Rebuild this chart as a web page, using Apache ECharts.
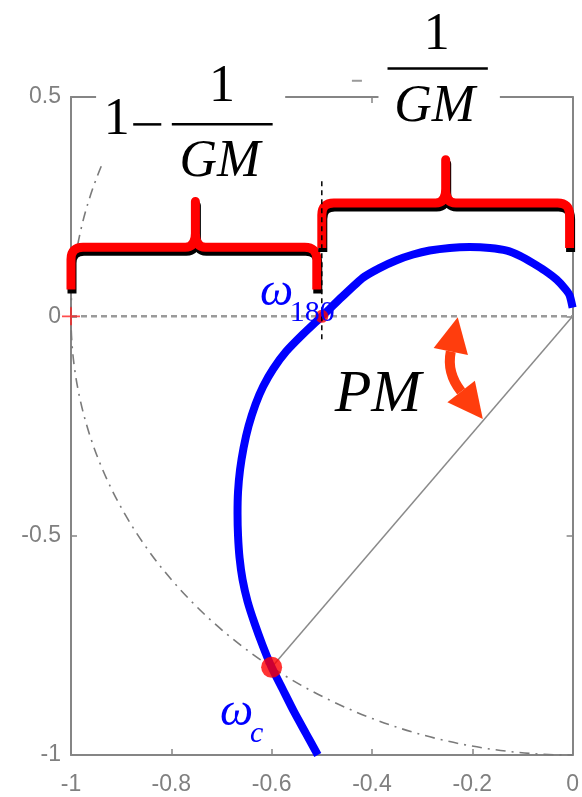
<!DOCTYPE html>
<html>
<head>
<meta charset="utf-8">
<script src="https://cdn.jsdelivr.net/npm/echarts@6/dist/echarts.min.js"></script>
<style>
  html, body { margin: 0; padding: 0; background: #fff; }
  #chart { width: 582px; height: 797px; }
</style>
</head>
<body>
<div id="chart"></div>
<script>
// Nyquist locus of the open-loop response (real / imaginary parts)
const nyquistRe = [-0.508, -0.532, -0.556, -0.578, -0.600, -0.618, -0.634, -0.648, -0.658, -0.664,
                   -0.667, -0.668, -0.667, -0.663, -0.656, -0.646, -0.632, -0.617, -0.597, -0.571,
                   -0.537, -0.500, -0.460, -0.418, -0.385, -0.351, -0.318, -0.285, -0.245, -0.205,
                   -0.165, -0.131, -0.105, -0.080, -0.055, -0.032, -0.015, -0.006, 0.000];
const nyquistIm = [-1.000, -0.950, -0.900, -0.850, -0.800, -0.750, -0.700, -0.650, -0.600, -0.550,
                   -0.500, -0.450, -0.400, -0.350, -0.300, -0.250, -0.200, -0.160, -0.120, -0.080,
                   -0.040, 0.000, 0.044, 0.088, 0.110, 0.128, 0.141, 0.150, 0.156, 0.158,
                   0.156, 0.150, 0.138, 0.122, 0.104, 0.084, 0.063, 0.048, 0.020];

// Special points
const criticalPoint = [-1, 0];        // -1 + j0
const omega180Point = [-0.5, 0];      // phase crossover
const omegaCPoint = [-0.6, -0.8];     // gain crossover (on the unit circle)

// Unit circle arc, degrees
const unitArcDeg = [160, 270];

// Gain-margin braces: [xStart, xEnd, xTip, yBar, yLegEnd, yTip]
const braceOneMinus = [-1.0, -0.51, -0.752, 0.1576, 0.061, 0.262];
const braceInvGM = [-0.5, -0.006, -0.253, 0.2585, 0.156, 0.357];

// Phase-margin arrow: [tip1 x, tip1 y, tip2 x, tip2 y, bend x, bend y]
const pmArrow = [-0.229, -0.002, -0.179, -0.234, -0.2515, -0.129];

// Axis ticks
const xTickValues = [-1, -0.8, -0.6, -0.4, -0.2, 0];
const yTickValues = [-1, -0.5, 0, 0.5];

const chart = echarts.init(document.getElementById('chart'), null, { renderer: 'canvas' });

const GRAY = '#858585';
const SERIF = '"Liberation Serif", "Times New Roman", serif';

function braceItem(params, api) {
  const x0 = api.value(0), x1 = api.value(1), xm = api.value(2);
  const yH = api.value(3), yB = api.value(4), yT = api.value(5);
  const L = api.coord([x0, yB]);
  const R = api.coord([x1, yB]);
  const hy = api.coord([x0, yH])[1];
  const T = api.coord([xm, yT]);
  const r = 12, sw = 10, sh = 14;
  const d = `M${L[0]},${L[1]} L${L[0]},${hy + r} Q${L[0]},${hy} ${L[0] + r},${hy} ` +
            `L${T[0] - sw},${hy} Q${T[0]},${hy} ${T[0]},${hy - sh} L${T[0]},${T[1]} ` +
            `L${T[0]},${hy - sh} Q${T[0]},${hy} ${T[0] + sw},${hy} ` +
            `L${R[0] - r},${hy} Q${R[0]},${hy} ${R[0]},${hy + r} L${R[0]},${R[1]}`;
  return {
    type: 'group',
    children: [
      { type: 'path', x: 1, y: 4, shape: { pathData: d },
        style: { fill: 'none', stroke: '#000', lineWidth: 9, lineJoin: 'round', lineCap: 'butt' } },
      { type: 'path', shape: { pathData: d },
        style: { fill: 'none', stroke: '#ff0000', lineWidth: 9, lineJoin: 'round', lineCap: 'butt' } }
    ]
  };
}

function arrowItem(params, api) {
  const A = api.coord([api.value(0), api.value(1)]);
  const B = api.coord([api.value(2), api.value(3)]);
  const C = api.coord([api.value(4), api.value(5)]);
  const headLen = 35, headHalf = 17.5;
  function head(tip) {
    const dx = C[0] - tip[0], dy = C[1] - tip[1];
    const n = Math.hypot(dx, dy);
    const ux = dx / n, uy = dy / n;
    const bx = tip[0] + ux * headLen, by = tip[1] + uy * headLen;
    return {
      base: [bx, by],
      pts: [tip, [bx - uy * headHalf, by + ux * headHalf], [bx + uy * headHalf, by - ux * headHalf]]
    };
  }
  const h1 = head(A), h2 = head(B);
  const color = '#ff3d0d';
  return {
    type: 'group',
    children: [
      { type: 'path',
        shape: { pathData: `M${h1.base[0]},${h1.base[1]} Q${C[0]},${C[1]} ${h2.base[0]},${h2.base[1]}` },
        style: { fill: 'none', stroke: color, lineWidth: 10 } },
      { type: 'polygon', shape: { points: h1.pts }, style: { fill: color } },
      { type: 'polygon', shape: { points: h2.pts }, style: { fill: color } }
    ]
  };
}

function unitArcItem(params, api) {
  const c = api.coord([0, 0]);
  const s = api.size([1, 1]);
  const rx = s[0], ry = s[1];
  const a0 = unitArcDeg[0] * Math.PI / 180, a1 = unitArcDeg[1] * Math.PI / 180;
  const p0 = [c[0] + rx * Math.cos(a0), c[1] - ry * Math.sin(a0)];
  const p1 = [c[0] + rx * Math.cos(a1), c[1] - ry * Math.sin(a1)];
  return {
    type: 'path',
    shape: { pathData: `M${p0[0]},${p0[1]} A${rx} ${ry} 0 0 0 ${p1[0]},${p1[1]}` },
    style: { fill: 'none', stroke: '#7a7a7a', lineWidth: 1.6, lineDash: [10, 6, 2, 6] }
  };
}

const axisCommon = {
  type: 'value',
  axisLine: { show: true, onZero: false, lineStyle: { color: GRAY, width: 2 } },
  axisTick: { show: true, inside: true, length: 6, lineStyle: { color: GRAY, width: 1.5 } },
  splitLine: { show: false }
};
const labelFont = '"Liberation Sans", Arial, sans-serif';

const option = {
  animation: false,
  backgroundColor: '#fff',
  grid: { left: 71, right: 9, top: 97, bottom: 42, containLabel: false },
  xAxis: [
    Object.assign({}, axisCommon, {
      position: 'bottom', min: -1, max: 0, interval: 0.2,
      axisLabel: { color: '#808080', fontSize: 23, margin: 18, fontFamily: labelFont,
        formatter: v => String(xTickValues.find(t => Math.abs(t - v) < 1e-9) ?? v) }
    }),
    Object.assign({}, axisCommon, {
      position: 'top', min: -1, max: 0, interval: 0.2, axisLabel: { show: false }
    })
  ],
  yAxis: [
    Object.assign({}, axisCommon, {
      position: 'left', min: -1, max: 0.5, interval: 0.5,
      axisLabel: { color: '#808080', fontSize: 23, margin: 10, fontFamily: labelFont,
        formatter: v => String(yTickValues.find(t => Math.abs(t - v) < 1e-9) ?? v) }
    }),
    Object.assign({}, axisCommon, {
      position: 'right', min: -1, max: 0.5, interval: 0.5, axisLabel: { show: false }
    })
  ],
  series: [
    { // unit circle
      type: 'custom', coordinateSystem: 'cartesian2d', silent: true, z: 1,
      renderItem: unitArcItem, data: [[0, 0]]
    },
    { // real axis reference
      type: 'line', silent: true, z: 1, symbol: 'none',
      data: [criticalPoint, [0, 0]],
      lineStyle: { color: '#9a9a9a', width: 2.5, type: [6, 4] }
    },
    { // phase margin ray
      type: 'line', silent: true, z: 1, symbol: 'none',
      data: [[0, 0], omegaCPoint],
      lineStyle: { color: '#8a8a8a', width: 1.5 }
    },
    { // Nyquist locus
      type: 'line', silent: true, z: 2, symbol: 'none', smooth: 0.2,
      data: nyquistRe.map((x, i) => [x, nyquistIm[i]]),
      lineStyle: { color: '#0000ff', width: 8 }
    },
    { // crossover points
      type: 'scatter', silent: true, z: 3,
      data: [
        { value: omega180Point, symbolSize: 13 },
        { value: omegaCPoint, symbolSize: 21 }
      ],
      itemStyle: { color: '#ff0000' }
    },
    { // critical point marker
      type: 'scatter', silent: true, z: 3,
      data: [criticalPoint], symbolSize: 18,
      symbol: 'path://M0,9H20V11H0Z M9,0H11V20H9Z',
      itemStyle: { color: '#ff2020' }
    },
    { // omega_180 guide
      type: 'line', silent: true, z: 6, symbol: 'none',
      data: [[omega180Point[0], -0.052], [omega180Point[0], 0.313]],
      lineStyle: { color: '#000', width: 1.5, type: [5, 4] }
    },
    { // gain margin braces
      type: 'custom', coordinateSystem: 'cartesian2d', silent: true, z: 5, clip: false,
      renderItem: braceItem, data: [braceOneMinus, braceInvGM]
    },
    { // phase margin arrow
      type: 'custom', coordinateSystem: 'cartesian2d', silent: true, z: 5, clip: false,
      renderItem: arrowItem, data: [pmArrow]
    }
  ]
};

chart.setOption(option);

// Formula and frequency annotations anchored to data coordinates (baseline positions)
const px = p => chart.convertToPixel({ xAxisIndex: 0, yAxisIndex: 0 }, p);

function textAt(text, at, size, opts) {
  const o = opts || {};
  const p = px(at);
  return {
    type: 'text', z: 120, silent: true,
    style: {
      text: text,
      x: p[0], y: p[1] - 0.305 * size,
      font: `${o.italic ? 'italic ' : ''}${size}px ${SERIF}`,
      fill: o.color || '#000',
      textAlign: o.align || 'center',
      verticalAlign: 'middle', textVerticalAlign: 'middle'
    }
  };
}
function lineAt(a, b, width, color) {
  const p = px(a), q = px(b);
  return {
    type: 'line', z: 120, silent: true,
    shape: { x1: p[0], y1: p[1], x2: q[0], y2: q[1] },
    style: { stroke: color || '#000', lineWidth: width }
  };
}
function maskAt(x0, x1) {
  const a = px([x0, 0.5]), b = px([x1, 0.5]);
  return {
    type: 'rect', z: 110, silent: true,
    shape: { x: a[0], y: a[1] - 8, width: b[0] - a[0], height: 16 },
    style: { fill: '#fff' }
  };
}

chart.setOption({
  graphic: [
    maskAt(-0.95, -0.573),
    maskAt(-0.387, -0.145),
    // 1 - 1/GM
    textAt('1', [-0.909, 0.41], 52),
    lineAt([-0.876, 0.4376], [-0.82, 0.4376], 2.5),
    textAt('1', [-0.699, 0.485], 52),
    lineAt([-0.799, 0.4376], [-0.598, 0.4376], 2.5),
    textAt('GM', [-0.703, 0.315], 52, { italic: true }),
    // 1/GM
    lineAt([-0.44, 0.537], [-0.42, 0.537], 2, '#9a9a9a'),
    textAt('1', [-0.271, 0.605], 52),
    lineAt([-0.369, 0.565], [-0.169, 0.565], 2.5),
    textAt('GM', [-0.275, 0.44], 52, { italic: true }),
    // omega_180
    textAt('ω', [-0.623, 0.0204], 47, { italic: true, color: '#0000ff', align: 'left' }),
    textAt('180', [-0.564, -0.0136], 30, { color: '#0000ff', align: 'left' }),
    // omega_c
    textAt('ω', [-0.703, -0.937], 47, { italic: true, color: '#0000ff', align: 'left' }),
    textAt('c', [-0.643, -0.973], 30, { italic: true, color: '#0000ff', align: 'left' }),
    // PM
    textAt('PM', [-0.388, -0.222], 60, { italic: true })
  ]
});
</script>
</body>
</html>
